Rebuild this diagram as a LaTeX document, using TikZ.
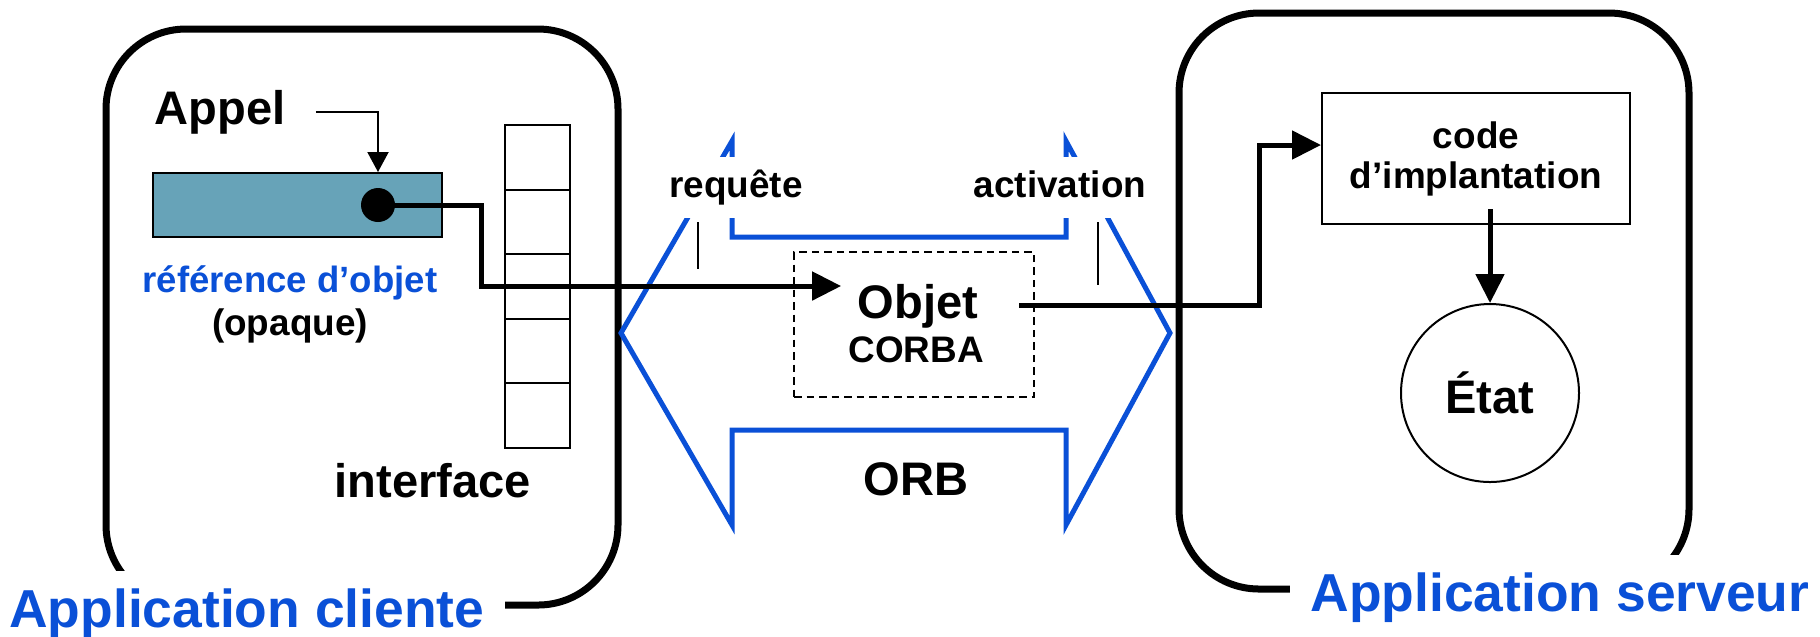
\documentclass[tikz,border=0pt]{standalone}
\usepackage{fontspec}
\setmainfont{Liberation Sans}
\usetikzlibrary{arrows.meta}

\definecolor{orbblue}{RGB}{10,80,215}
\definecolor{refteal}{RGB}{103,163,184}

\tikzset{
  every node/.style={inner sep=0pt},
  big/.style={font=\bfseries\fontsize{13.4}{16}\selectfont},
  mid/.style={font=\bfseries\fontsize{10.5}{11.4}\selectfont},
  small/.style={font=\bfseries\fontsize{10.4}{12}\selectfont},
  huge/.style={font=\bfseries\fontsize{15.2}{18}\selectfont, text=orbblue},
  appbox/.style={line width=0.7mm, rounded corners=8mm},
  applbl/.style={huge, fill=white, inner xsep=2.1mm, inner ysep=1.75mm},
  orb/.style={draw=orbblue, line width=0.5mm},
  gap/.style={mid, fill=white, text height=2.7mm, text depth=0.77mm, inner xsep=2.1mm, inner ysep=1.3mm},
  tick/.style={line width=0.22mm},
  slot/.style={draw, line width=0.2mm, minimum width=6.5mm, minimum height=6.45mm},
  refbox/.style={draw, line width=0.2mm, fill=refteal, minimum width=28.9mm, minimum height=6.4mm},
  dot/.style={circle, fill=black, minimum size=3.4mm},
  corbabox/.style={draw, dashed, line width=0.15mm, dash pattern=on 0.75mm off 0.5mm, minimum width=24mm, minimum height=14.5mm},
  codebox/.style={mid, draw, line width=0.2mm, align=center, minimum width=30.8mm, minimum height=13.1mm},
  statecirc/.style={big, circle, draw, line width=0.2mm, minimum size=17.8mm},
  conn/.style={line width=0.5mm, -{Triangle[length=2.9mm,width=2.8mm]}},
  call/.style={line width=0.2mm, -{Triangle[length=2mm,width=2.1mm]}}
}

\begin{document}
\begin{tikzpicture}[x=0.1mm, y=-0.1mm]
  \useasboundingbox (0,0) rectangle (1820,636);

  % les deux applications
  \draw[appbox] (106,29) rectangle (618,605);
  \draw[appbox] (1179,13) rectangle (1689,589);

  % le bus ORB
  \draw[orb] (621,333) -- (732,141) -- (732,237) -- (1066,237) -- (1066,141)
    -- (1170,333) -- (1066,525) -- (1066,430) -- (732,430) -- (732,525) -- cycle;
  \node[gap] (req) at (736,187.5) {requête};
  \node[gap] (activ) at (1060,187.5) {activation};
  \coordinate (tickreq) at (698,222);
  \coordinate (tickact) at (1098,222);
  \draw[tick] (tickreq) -- ++(0,47);
  \draw[tick] (tickact) -- ++(0,63);
  \node[big, anchor=base] (orb) at (916,495) {ORB};

  % cote client
  \foreach \k in {0,...,4}
    \node[slot] (slot\k) at (537.5,{157.25+64.5*\k}) {};
  \node[big, anchor=base] (iface) at (433,497) {interface};

  \node[refbox] (ref) at (297.5,205) {};
  \node[dot] (dot) at (378,205) {};
  \node[big, anchor=base] (appel) at (220,124) {Appel};
  \node[small, text=orbblue, anchor=base] (refname) at (290,292) {référence d’objet};
  \node[mid, anchor=base] (opaque) at (290,335) {(opaque)};

  \draw[call] ([xshift=8.5pt]appel.east) -| (dot |- ref.north);

  % objet CORBA
  \node[corbabox] (corba) at (914,324.5) {};
  \node[big, anchor=base, inner xsep=1.6mm] (objet) at (918,318) {Objet};
  \node[mid, anchor=base] (corbaname) at (916,362) {CORBA};

  \coordinate (bendL) at (481,286);
  \draw[conn] (dot.center) -| (bendL) -- (bendL -| objet.west);

  % cote serveur
  \node[codebox] (code) at (1476,158.5) {code\\d’implantation};
  \node[statecirc] (etat) at (1490,393) {État};

  \coordinate (bendR) at (1259,145);
  \draw[conn] ([xshift=7pt]objet.east) -| (bendR) -- (bendR -| code.west);
  \coordinate (codeout) at ([yshift=4.5pt]code.south);
  \draw[conn] (codeout -| etat.north) -- (etat.north);

  % titres
  \node[applbl, anchor=base east] (cliente) at (506,627) {Application cliente};
  \node[applbl, anchor=base west] (serveur) at (1289,611) {Application serveur};
\end{tikzpicture}
\end{document}
